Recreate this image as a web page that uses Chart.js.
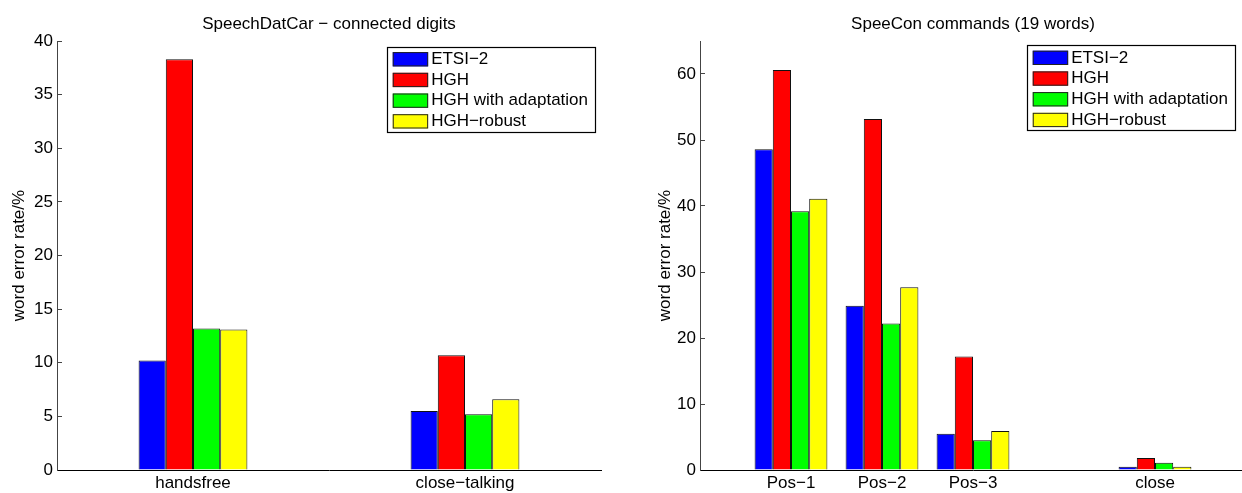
<!DOCTYPE html>
<html>
<head>
<meta charset="utf-8">
<title>Word error rates</title>
<script src="https://cdn.jsdelivr.net/npm/chart.js@4/dist/chart.umd.min.js"></script>
<style>
  html, body { margin: 0; padding: 0; background: #fff; overflow: hidden; width: 1242px; height: 493px; }
  #left { position: absolute; left: 0; top: 0; }
  #right { position: absolute; left: 621px; top: 0; }
</style>
</head>
<body>
<canvas id="left" width="621" height="493"></canvas>
<canvas id="right" width="639" height="493"></canvas>
<script>
// ---- data ----
const seriesNames = ['ETSI\u22122', 'HGH', 'HGH with adaptation', 'HGH\u2212robust'];
const seriesColors = ['#0000ff', '#ff0000', '#00ff00', '#ffff00'];

// SpeechDatCar, connected digits
const sdcCategories = ['handsfree', 'close\u2212talking'];
const sdcEtsi   = [10.2, 5.5];
const sdcHgh    = [38.3, 10.7];
const sdcAdapt  = [13.2, 5.2];
const sdcRobust = [13.1, 6.6];
const sdcYTicks = { min: 0, max: 40, step: 5 };

// SpeeCon commands, 19 words
const scCategories = ['Pos\u22121', 'Pos\u22122', 'Pos\u22123', 'close'];
const scSlots      = [1, 2, 3, 5];
const scEtsi   = [48.6, 24.9, 5.5, 0.5];
const scHgh    = [60.6, 53.2, 17.2, 1.8];
const scAdapt  = [39.2, 22.2, 4.5, 1.1];
const scRobust = [41.1, 27.7, 5.9, 0.5];
const scYTicks = { min: 0, max: 65, step: 10 };
const scXRange = { min: 0, max: 6 };

const FONT = '"Liberation Sans", Arial, Helvetica, sans-serif';
Chart.defaults.font.family = FONT;
Chart.defaults.font.size = 17;
Chart.defaults.color = '#000';

// Title above the plot area
const panelTitle = {
  id: 'panelTitle',
  afterDraw(chart, args, opts) {
    const { ctx, chartArea } = chart;
    ctx.save();
    ctx.font = '17px ' + FONT;
    ctx.fillStyle = '#000';
    ctx.textAlign = 'center';
    ctx.textBaseline = 'alphabetic';
    ctx.fillText(opts.text, (chartArea.left + chartArea.right) / 2, opts.baseline);
    ctx.restore();
  }
};

// Boxed legend in the upper right corner of the plot
const boxLegend = {
  id: 'boxLegend',
  afterDatasetsDraw(chart, args, opts) {
    const { ctx, chartArea } = chart;
    const sets = chart.data.datasets;
    ctx.save();
    ctx.font = '17px ' + FONT;
    const textW = Math.max(...sets.map(d => ctx.measureText(d.label).width));
    const padL = 6, swW = 35.4, swH = 14.3, gap = 3, padR = 7, rowH = 20.7, padT = 2.2, padB = 0;
    const w = padL + swW + gap + textW + padR;
    const h = padT + rowH * sets.length + padB;
    const right = chartArea.right - opts.insetRight;
    const left = right - w;
    const top = chartArea.top + opts.insetTop;
    ctx.fillStyle = '#fff';
    ctx.fillRect(left, top, w, h);
    ctx.strokeStyle = '#000';
    ctx.lineWidth = 1.2;
    ctx.strokeRect(Math.round(left) + 0.5, Math.round(top) + 0.5, Math.round(w), Math.round(h));
    sets.forEach((d, i) => {
      const cy = top + padT + rowH * i + rowH / 2;
      ctx.fillStyle = d.backgroundColor;
      ctx.fillRect(left + padL, cy - swH / 2, swW, swH);
      ctx.strokeStyle = '#222';
      ctx.lineWidth = 1;
      ctx.strokeRect(left + padL + 0.5, cy - swH / 2 + 0.5, swW - 1, swH - 1);
      ctx.fillStyle = '#000';
      ctx.textAlign = 'left';
      ctx.textBaseline = 'middle';
      ctx.fillText(d.label, left + padL + swW + gap, cy);
    });
    ctx.restore();
  }
};

function makeDatasets(seriesList, xs) {
  return seriesList.map((vals, i) => ({
    label: seriesNames[i],
    data: xs ? vals.map((v, k) => ({ x: xs[k], y: v })) : vals,
    backgroundColor: seriesColors[i],
    borderColor: '#111',
    borderWidth: 1,
    borderSkipped: 'bottom'
  }));
}

function yAxis(t, width, titlePad) {
  return {
    type: 'linear',
    min: t.min,
    max: t.max,
    afterFit(scale) { scale.width = width; },
    ticks: { stepSize: t.step, includeBounds: false, padding: 9, color: '#000', font: { size: 17 } },
    grid: { display: true, drawOnChartArea: false, drawTicks: true, tickLength: -5, color: '#444', lineWidth: 1 },
    border: { display: true, color: '#444', width: 1 },
    title: { display: true, text: 'word error rate/%', color: '#000', font: { size: 17 }, padding: { top: titlePad, bottom: 0 } }
  };
}

function xAxisBase() {
  return {
    afterFit(scale) { scale.height = 23; },
    grid: { display: false, drawTicks: false },
    border: { display: true, color: '#000', width: 1 }
  };
}

// Left panel
new Chart(document.getElementById('left'), {
  type: 'bar',
  data: {
    labels: sdcCategories,
    datasets: makeDatasets([sdcEtsi, sdcHgh, sdcAdapt, sdcRobust])
  },
  options: {
    responsive: false,
    animation: false,
    devicePixelRatio: 1,
    layout: { padding: { top: 41, right: 20, left: 0, bottom: 0 } },
    datasets: { bar: { categoryPercentage: 0.4, barPercentage: 1 } },
    scales: {
      x: Object.assign(xAxisBase(), {
        type: 'category',
        ticks: { padding: 3, color: '#000', font: { size: 17 } }
      }),
      y: yAxis(sdcYTicks, 57, 9)
    },
    plugins: {
      legend: { display: false },
      tooltip: { enabled: false },
      panelTitle: { text: 'SpeechDatCar \u2212 connected digits', baseline: 28.5 },
      boxLegend: { insetRight: 6, insetTop: 5.7 }
    }
  },
  plugins: [panelTitle, boxLegend]
});

// Right panel
new Chart(document.getElementById('right'), {
  type: 'bar',
  data: {
    datasets: makeDatasets([scEtsi, scHgh, scAdapt, scRobust], scSlots)
  },
  options: {
    responsive: false,
    animation: false,
    devicePixelRatio: 1,
    layout: { padding: { top: 41, right: 14, left: 0, bottom: 0 } },
    datasets: { bar: { categoryPercentage: 0.8, barPercentage: 1 } },
    scales: {
      x: Object.assign(xAxisBase(), {
        type: 'linear',
        offset: false,
        min: scXRange.min,
        max: scXRange.max,
        afterBuildTicks(scale) { scale.ticks = scSlots.map(v => ({ value: v })); },
        ticks: {
          autoSkip: false,
          maxRotation: 0,
          padding: 3,
          color: '#000',
          font: { size: 17 },
          callback: (v) => scCategories[scSlots.indexOf(v)]
        }
      }),
      y: yAxis(scYTicks, 79, 33.8)
    },
    plugins: {
      legend: { display: false },
      tooltip: { enabled: false },
      panelTitle: { text: 'SpeeCon commands (19 words)', baseline: 28.5 },
      boxLegend: { insetRight: 11, insetTop: 4.3 }
    }
  },
  plugins: [panelTitle, boxLegend]
});
</script>
</body>
</html>
